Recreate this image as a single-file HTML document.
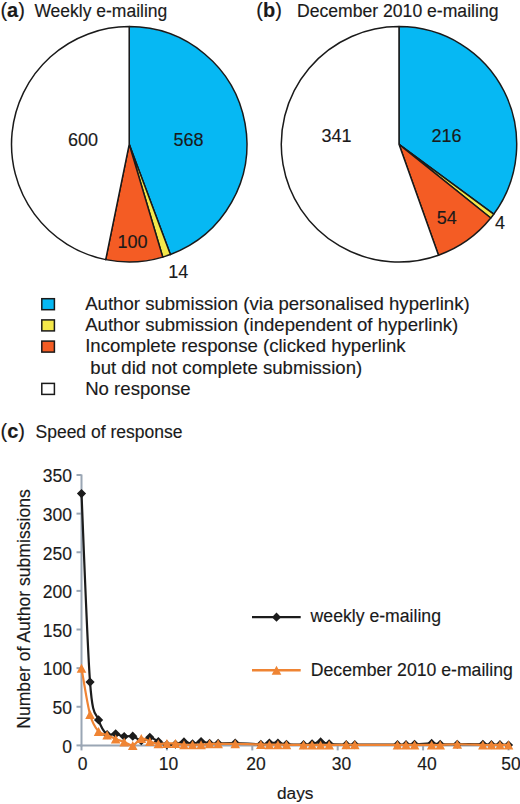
<!DOCTYPE html>
<html><head><meta charset="utf-8"><style>
html,body{margin:0;padding:0;background:#fff;}
svg{display:block;}
text{font-family:"Liberation Sans",sans-serif;fill:#1a1a1a;stroke:#1a1a1a;stroke-width:0.15px;}
</style></head><body>
<svg width="520" height="804" viewBox="0 0 520 804">
<rect width="520" height="804" fill="#fff"/>
<!-- titles -->
<text x="0.4" y="17.3" font-size="20">(<tspan font-weight="bold">a</tspan>)</text>
<text x="34.4" y="17.3" font-size="17.5">Weekly e-mailing</text>
<text x="256.3" y="17.2" font-size="20">(<tspan font-weight="bold">b</tspan>)</text>
<text x="297" y="17.3" font-size="17.6">December 2010 e-mailing</text>
<!-- pies -->
<path d="M129.2,144.3 L129.20,26.60 A117.7,117.7 0 0 1 170.42,254.55 Z" fill="#06b8f3" stroke="#1a1a1a" stroke-width="1.5" stroke-linejoin="round"/>
<path d="M129.2,144.3 L170.42,254.55 A117.7,117.7 0 0 1 162.76,257.11 Z" fill="#f4e84a" stroke="#1a1a1a" stroke-width="1.5" stroke-linejoin="round"/>
<path d="M129.2,144.3 L162.76,257.11 A117.7,117.7 0 0 1 105.71,259.63 Z" fill="#f45c24" stroke="#1a1a1a" stroke-width="1.5" stroke-linejoin="round"/>
<path d="M129.2,144.3 L105.71,259.63 A117.7,117.7 0 0 1 129.20,26.60 Z" fill="#ffffff" stroke="#1a1a1a" stroke-width="1.5" stroke-linejoin="round"/>
<path d="M399,144.3 L399.00,26.60 A117.7,117.7 0 0 1 493.69,214.21 Z" fill="#06b8f3" stroke="#1a1a1a" stroke-width="1.5" stroke-linejoin="round"/>
<path d="M399,144.3 L493.69,214.21 A117.7,117.7 0 0 1 490.75,218.02 Z" fill="#f4e84a" stroke="#1a1a1a" stroke-width="1.5" stroke-linejoin="round"/>
<path d="M399,144.3 L490.75,218.02 A117.7,117.7 0 0 1 438.50,255.17 Z" fill="#f45c24" stroke="#1a1a1a" stroke-width="1.5" stroke-linejoin="round"/>
<path d="M399,144.3 L438.50,255.17 A117.7,117.7 0 1 1 399.00,26.60 Z" fill="#ffffff" stroke="#1a1a1a" stroke-width="1.5" stroke-linejoin="round"/>
<g font-size="18" text-anchor="middle">
<text x="83" y="146.2">600</text>
<text x="188.5" y="146.2">568</text>
<text x="132.5" y="247.5">100</text>
<text x="178.3" y="277.8">14</text>
<text x="336.5" y="141.5">341</text>
<text x="446.5" y="141.5">216</text>
<text x="446.8" y="223.5">54</text>
<text x="500" y="228.7">4</text>
</g>
<!-- legend -->
<g stroke="#1a1a1a" stroke-width="1.5">
<rect x="41.8" y="298.7" width="12.6" height="11" fill="#06b8f3"/>
<rect x="41.8" y="319.9" width="12.6" height="11" fill="#f4e84a"/>
<rect x="41.8" y="341.1" width="12.6" height="11" fill="#f45c24"/>
<rect x="41.8" y="383.4" width="12.6" height="11" fill="#fff"/>
</g>
<g font-size="18.6">
<text x="85.2" y="309.8">Author submission (via personalised hyperlink)</text>
<text x="85.2" y="331">Author submission (independent of hyperlink)</text>
<text x="85.2" y="351.9">Incomplete response (clicked hyperlink</text>
<text x="85.2" y="374">&#160;but did not complete submission)</text>
<text x="85.2" y="395.4">No response</text>
</g>
<!-- (c) -->
<text x="0.5" y="437.9" font-size="20">(<tspan font-weight="bold">c</tspan>)</text>
<text x="35.5" y="437.9" font-size="17.5">Speed of response</text>
<!-- axes -->
<line x1="81.5" y1="474.49" x2="81.5" y2="746.4" stroke="#9aa6b4" stroke-width="2"/>
<line x1="80.5" y1="745.4" x2="508.50" y2="745.4" stroke="#9aa6b4" stroke-width="2"/>
<line x1="76.5" y1="745.40" x2="81.5" y2="745.40" stroke="#9aa6b4" stroke-width="2"/><line x1="76.5" y1="706.77" x2="81.5" y2="706.77" stroke="#9aa6b4" stroke-width="2"/><line x1="76.5" y1="668.14" x2="81.5" y2="668.14" stroke="#9aa6b4" stroke-width="2"/><line x1="76.5" y1="629.51" x2="81.5" y2="629.51" stroke="#9aa6b4" stroke-width="2"/><line x1="76.5" y1="590.88" x2="81.5" y2="590.88" stroke="#9aa6b4" stroke-width="2"/><line x1="76.5" y1="552.25" x2="81.5" y2="552.25" stroke="#9aa6b4" stroke-width="2"/><line x1="76.5" y1="513.62" x2="81.5" y2="513.62" stroke="#9aa6b4" stroke-width="2"/><line x1="76.5" y1="474.99" x2="81.5" y2="474.99" stroke="#9aa6b4" stroke-width="2"/><line x1="81.50" y1="745.4" x2="81.50" y2="750.4" stroke="#9aa6b4" stroke-width="2"/><line x1="166.90" y1="745.4" x2="166.90" y2="750.4" stroke="#9aa6b4" stroke-width="2"/><line x1="252.30" y1="745.4" x2="252.30" y2="750.4" stroke="#9aa6b4" stroke-width="2"/><line x1="337.70" y1="745.4" x2="337.70" y2="750.4" stroke="#9aa6b4" stroke-width="2"/><line x1="423.10" y1="745.4" x2="423.10" y2="750.4" stroke="#9aa6b4" stroke-width="2"/><line x1="508.50" y1="745.4" x2="508.50" y2="750.4" stroke="#9aa6b4" stroke-width="2"/>
<g font-size="17.5">
<text x="72" y="752.70" text-anchor="end">0</text><text x="72" y="714.07" text-anchor="end">50</text><text x="72" y="675.44" text-anchor="end">100</text><text x="72" y="636.81" text-anchor="end">150</text><text x="72" y="598.18" text-anchor="end">200</text><text x="72" y="559.55" text-anchor="end">250</text><text x="72" y="520.92" text-anchor="end">300</text><text x="72" y="482.29" text-anchor="end">350</text>
<text x="82.7" y="770" text-anchor="middle">0</text><text x="168.4" y="770" text-anchor="middle">10</text><text x="255.9" y="770" text-anchor="middle">20</text><text x="341.4" y="770" text-anchor="middle">30</text><text x="426.9" y="770" text-anchor="middle">40</text><text x="510.9" y="770" text-anchor="middle">50</text>
</g>
<text x="277" y="799.4" font-size="17.3">days</text>
<text transform="translate(29.5,728.8) rotate(-90)" font-size="17.6">Number of Author submissions</text>
<!-- series -->
<path d="M81.50,493.53 C82.92,524.95 87.19,644.32 90.04,682.05 C92.89,719.78 95.73,711.15 98.58,719.90 C101.43,728.66 104.27,732.27 107.12,734.58 C109.97,736.90 112.81,733.49 115.66,733.81 C118.51,734.13 121.35,736.13 124.20,736.52 C127.05,736.90 129.89,735.42 132.74,736.13 C135.59,736.84 138.43,740.57 141.28,740.76 C144.13,740.96 146.97,737.16 149.82,737.29 C152.67,737.42 155.51,740.31 158.36,741.54 C161.21,742.76 164.05,744.18 166.90,744.63 C169.75,745.08 172.59,744.69 175.44,744.24 C178.29,743.79 181.13,741.99 183.98,741.92 C186.83,741.86 189.67,743.92 192.52,743.85 C195.37,743.79 198.21,741.60 201.06,741.54 C203.91,741.47 206.75,743.15 209.60,743.47 C212.45,743.79 213.87,743.53 218.14,743.47 C222.41,743.40 228.10,742.95 235.22,743.08 C242.34,743.21 255.15,744.24 260.84,744.24 C266.53,744.24 266.53,743.28 269.38,743.08 C272.23,742.89 275.07,742.89 277.92,743.08 C280.77,743.28 282.19,743.98 286.46,744.24 C290.73,744.50 299.27,744.69 303.54,744.63 C307.81,744.56 309.23,744.31 312.08,743.85 C314.93,743.40 317.77,741.92 320.62,741.92 C323.47,741.92 324.89,743.40 329.16,743.85 C333.43,744.31 341.97,744.50 346.24,744.63 C350.51,744.76 346.24,744.63 354.78,744.63 C363.32,744.63 388.94,744.63 397.48,744.63 C406.02,744.63 403.17,744.69 406.02,744.63 C408.87,744.56 410.29,744.43 414.56,744.24 C418.83,744.05 427.37,743.47 431.64,743.47 C435.91,743.47 435.91,744.11 440.18,744.24 C444.45,744.37 450.14,744.24 457.26,744.24 C464.38,744.24 477.19,744.18 482.88,744.24 C488.57,744.31 488.57,744.56 491.42,744.63 C494.27,744.69 497.11,744.56 499.96,744.63 C502.81,744.69 507.08,744.95 508.50,745.01" fill="none" stroke="#1c1c1c" stroke-width="2.2"/>
<path d="M81.50,488.93 L86.10,493.53 L81.50,498.13 L76.90,493.53 ZM90.04,677.45 L94.64,682.05 L90.04,686.65 L85.44,682.05 ZM98.58,715.30 L103.18,719.90 L98.58,724.50 L93.98,719.90 ZM107.12,729.98 L111.72,734.58 L107.12,739.18 L102.52,734.58 ZM115.66,729.21 L120.26,733.81 L115.66,738.41 L111.06,733.81 ZM124.20,731.92 L128.80,736.52 L124.20,741.12 L119.60,736.52 ZM132.74,731.53 L137.34,736.13 L132.74,740.73 L128.14,736.13 ZM141.28,736.16 L145.88,740.76 L141.28,745.36 L136.68,740.76 ZM149.82,732.69 L154.42,737.29 L149.82,741.89 L145.22,737.29 ZM158.36,736.94 L162.96,741.54 L158.36,746.14 L153.76,741.54 ZM166.90,740.03 L171.50,744.63 L166.90,749.23 L162.30,744.63 ZM175.44,739.64 L180.04,744.24 L175.44,748.84 L170.84,744.24 ZM183.98,737.32 L188.58,741.92 L183.98,746.52 L179.38,741.92 ZM192.52,739.25 L197.12,743.85 L192.52,748.45 L187.92,743.85 ZM201.06,736.94 L205.66,741.54 L201.06,746.14 L196.46,741.54 ZM209.60,738.87 L214.20,743.47 L209.60,748.07 L205.00,743.47 ZM218.14,738.87 L222.74,743.47 L218.14,748.07 L213.54,743.47 ZM235.22,738.48 L239.82,743.08 L235.22,747.68 L230.62,743.08 ZM260.84,739.64 L265.44,744.24 L260.84,748.84 L256.24,744.24 ZM269.38,738.48 L273.98,743.08 L269.38,747.68 L264.78,743.08 ZM277.92,738.48 L282.52,743.08 L277.92,747.68 L273.32,743.08 ZM286.46,739.64 L291.06,744.24 L286.46,748.84 L281.86,744.24 ZM303.54,740.03 L308.14,744.63 L303.54,749.23 L298.94,744.63 ZM312.08,739.25 L316.68,743.85 L312.08,748.45 L307.48,743.85 ZM320.62,737.32 L325.22,741.92 L320.62,746.52 L316.02,741.92 ZM329.16,739.25 L333.76,743.85 L329.16,748.45 L324.56,743.85 ZM346.24,740.03 L350.84,744.63 L346.24,749.23 L341.64,744.63 ZM354.78,740.03 L359.38,744.63 L354.78,749.23 L350.18,744.63 ZM397.48,740.03 L402.08,744.63 L397.48,749.23 L392.88,744.63 ZM406.02,740.03 L410.62,744.63 L406.02,749.23 L401.42,744.63 ZM414.56,739.64 L419.16,744.24 L414.56,748.84 L409.96,744.24 ZM431.64,738.87 L436.24,743.47 L431.64,748.07 L427.04,743.47 ZM440.18,739.64 L444.78,744.24 L440.18,748.84 L435.58,744.24 ZM457.26,739.64 L461.86,744.24 L457.26,748.84 L452.66,744.24 ZM482.88,739.64 L487.48,744.24 L482.88,748.84 L478.28,744.24 ZM491.42,740.03 L496.02,744.63 L491.42,749.23 L486.82,744.63 ZM499.96,740.03 L504.56,744.63 L499.96,749.23 L495.36,744.63 ZM508.50,740.41 L513.10,745.01 L508.50,749.61 L503.90,745.01 Z" fill="#1c1c1c"/>
<path d="M81.50,668.14 C82.92,675.87 87.19,703.94 90.04,714.50 C92.89,725.05 95.73,728.08 98.58,731.49 C101.43,734.91 104.27,733.72 107.12,734.97 C109.97,736.22 112.81,737.83 115.66,738.99 C118.51,740.15 121.35,740.85 124.20,741.92 C127.05,742.99 129.89,745.98 132.74,745.40 C135.59,744.82 138.43,739.09 141.28,738.45 C144.13,737.80 146.97,740.64 149.82,741.54 C152.67,742.44 155.51,743.53 158.36,743.85 C161.21,744.18 164.05,743.53 166.90,743.47 C169.75,743.40 172.59,743.25 175.44,743.47 C178.29,743.69 181.13,744.59 183.98,744.78 C186.83,744.98 189.67,744.63 192.52,744.63 C195.37,744.63 198.21,744.91 201.06,744.78 C203.91,744.65 206.75,744.01 209.60,743.85 C212.45,743.70 213.87,743.85 218.14,743.85 C222.41,743.85 228.10,743.75 235.22,743.85 C242.34,743.96 255.15,744.34 260.84,744.47 C266.53,744.60 266.53,744.60 269.38,744.63 C272.23,744.65 275.07,744.60 277.92,744.63 C280.77,744.65 282.19,744.73 286.46,744.78 C290.73,744.83 299.27,744.91 303.54,744.94 C307.81,744.96 309.23,744.94 312.08,744.94 C314.93,744.94 317.77,744.94 320.62,744.94 C323.47,744.94 324.89,744.96 329.16,744.94 C333.43,744.91 341.97,744.81 346.24,744.78 C350.51,744.76 346.24,744.76 354.78,744.78 C363.32,744.81 388.94,744.91 397.48,744.94 C406.02,744.96 403.17,744.94 406.02,744.94 C408.87,744.94 410.29,744.94 414.56,744.94 C418.83,744.94 427.37,744.94 431.64,744.94 C435.91,744.94 435.91,745.05 440.18,744.94 C444.45,744.82 450.14,744.24 457.26,744.24 C464.38,744.24 477.19,744.82 482.88,744.94 C488.57,745.05 488.57,744.94 491.42,744.94 C494.27,744.94 497.11,744.94 499.96,744.94 C502.81,744.94 507.08,744.94 508.50,744.94" fill="none" stroke="#ef8433" stroke-width="2.2"/>
<path d="M81.50,663.64 L86.30,672.64 L76.70,672.64 ZM90.04,710.00 L94.84,719.00 L85.24,719.00 ZM98.58,726.99 L103.38,735.99 L93.78,735.99 ZM107.12,730.47 L111.92,739.47 L102.32,739.47 ZM115.66,734.49 L120.46,743.49 L110.86,743.49 ZM124.20,737.42 L129.00,746.42 L119.40,746.42 ZM132.74,740.90 L137.54,749.90 L127.94,749.90 ZM141.28,733.95 L146.08,742.95 L136.48,742.95 ZM149.82,737.04 L154.62,746.04 L145.02,746.04 ZM158.36,739.35 L163.16,748.35 L153.56,748.35 ZM166.90,738.97 L171.70,747.97 L162.10,747.97 ZM175.44,738.97 L180.24,747.97 L170.64,747.97 ZM183.98,740.28 L188.78,749.28 L179.18,749.28 ZM192.52,740.13 L197.32,749.13 L187.72,749.13 ZM201.06,740.28 L205.86,749.28 L196.26,749.28 ZM209.60,739.35 L214.40,748.35 L204.80,748.35 ZM218.14,739.35 L222.94,748.35 L213.34,748.35 ZM235.22,739.35 L240.02,748.35 L230.42,748.35 ZM260.84,739.97 L265.64,748.97 L256.04,748.97 ZM269.38,740.13 L274.18,749.13 L264.58,749.13 ZM277.92,740.13 L282.72,749.13 L273.12,749.13 ZM286.46,740.28 L291.26,749.28 L281.66,749.28 ZM303.54,740.44 L308.34,749.44 L298.74,749.44 ZM312.08,740.44 L316.88,749.44 L307.28,749.44 ZM320.62,740.44 L325.42,749.44 L315.82,749.44 ZM329.16,740.44 L333.96,749.44 L324.36,749.44 ZM346.24,740.28 L351.04,749.28 L341.44,749.28 ZM354.78,740.28 L359.58,749.28 L349.98,749.28 ZM397.48,740.44 L402.28,749.44 L392.68,749.44 ZM406.02,740.44 L410.82,749.44 L401.22,749.44 ZM414.56,740.44 L419.36,749.44 L409.76,749.44 ZM431.64,740.44 L436.44,749.44 L426.84,749.44 ZM440.18,740.44 L444.98,749.44 L435.38,749.44 ZM457.26,739.74 L462.06,748.74 L452.46,748.74 ZM482.88,740.44 L487.68,749.44 L478.08,749.44 ZM491.42,740.44 L496.22,749.44 L486.62,749.44 ZM499.96,740.44 L504.76,749.44 L495.16,749.44 ZM508.50,740.44 L513.30,749.44 L503.70,749.44 Z" fill="#ef8433"/>
<!-- chart legend -->
<line x1="252" y1="617.2" x2="300.7" y2="617.2" stroke="#1c1c1c" stroke-width="2.2"/>
<path d="M276.50,612.60 L281.10,617.20 L276.50,621.80 L271.90,617.20 Z" fill="#1c1c1c"/>
<text x="310.6" y="621.8" font-size="17.65">weekly e-mailing</text>
<line x1="252" y1="670.3" x2="300.7" y2="670.3" stroke="#ef8433" stroke-width="2.4"/>
<path d="M276.50,665.80 L281.30,674.80 L271.70,674.80 Z" fill="#ef8433"/>
<text x="310.8" y="676" font-size="17.65">December 2010 e-mailing</text>
</svg>
</body></html>
